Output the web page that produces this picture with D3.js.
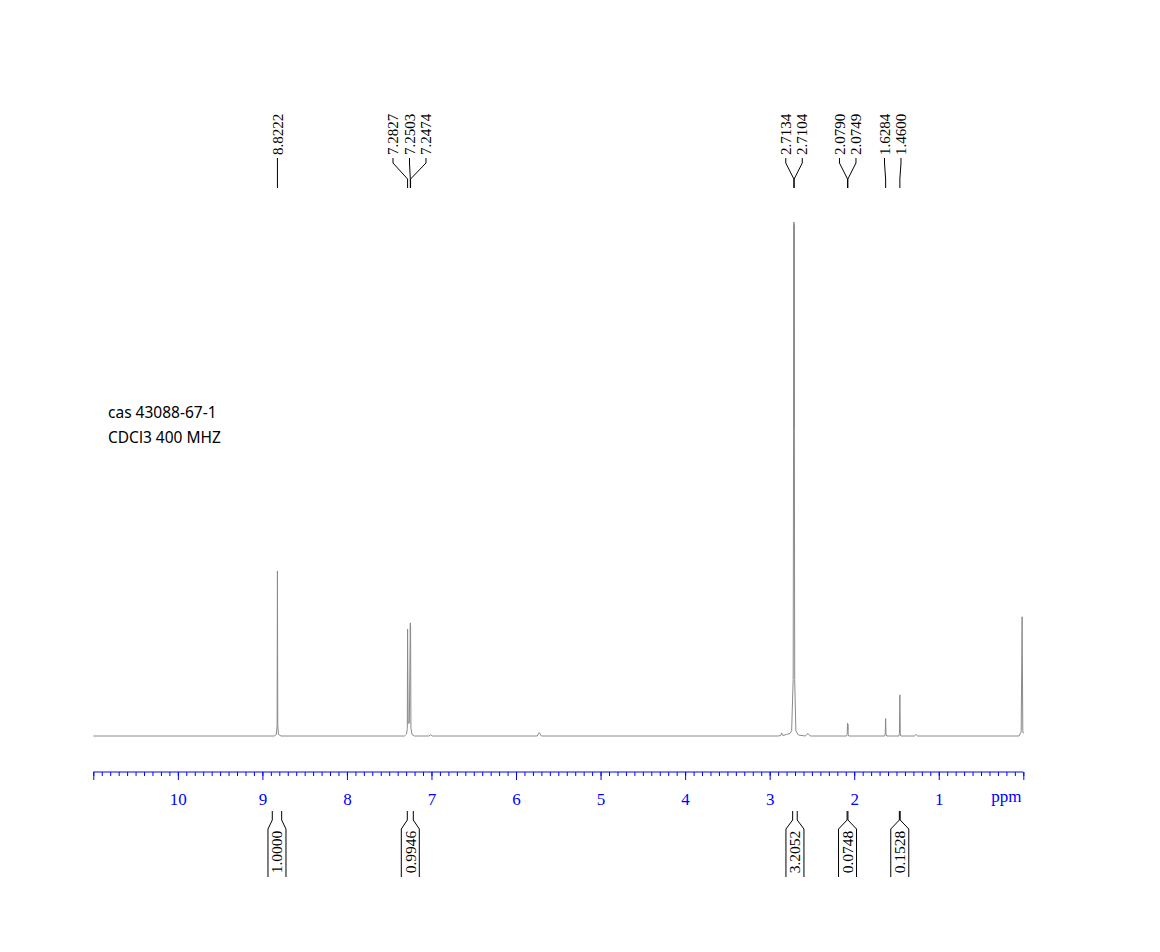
<!DOCTYPE html>
<html>
<head>
<meta charset="utf-8">
<script src="https://cdn.jsdelivr.net/npm/d3@7"></script>
<style>
  html, body { margin: 0; padding: 0; background: #ffffff; }
  svg { display: block; }
</style>
</head>
<body>
<svg id="chart" width="1160" height="952"></svg>
<script>
// ---------------- DATA ----------------
// spectrum trace: chemical shift (ppm) and relative intensity
const specPpm = [11.0, 8.86, 8.835, 8.826, 8.8222, 8.818, 8.81, 8.78,
  7.32, 7.295, 7.286, 7.2827, 7.276, 7.262, 7.2503, 7.249, 7.2474, 7.243, 7.23, 7.20,
  7.03, 7.01, 6.99,
  5.75, 5.725, 5.70,
  2.90, 2.87, 2.858, 2.845, 2.80, 2.76, 2.74, 2.722, 2.7134, 2.712, 2.7104, 2.704, 2.69, 2.66,
  2.58, 2.547, 2.52,
  2.09, 2.083, 2.0790, 2.077, 2.0749, 2.071, 2.064,
  1.64, 1.633, 1.6284, 1.624, 1.616,
  1.472, 1.465, 1.4600, 1.455, 1.448,
  1.29, 1.27, 1.25,
  0.05, 0.025, 0.014, 0.006, 0.0];
const specInt = [0, 0, 0.3, 2, 32.1, 2, 0.3, 0,
  0, 0.4, 1.5, 20.8, 2.5, 2.5, 22.0, 20, 21.4, 1.5, 0.3, 0,
  0, 0.25, 0,
  0, 0.65, 0,
  0, 0.1, 0.6, 0.1, 0.3, 0.5, 1.0, 11, 100, 60, 99.5, 11, 1, 0.2,
  0, 0.5, 0,
  0, 0.3, 2.5, 1.2, 2.3, 0.3, 0,
  0, 0.4, 3.4, 0.4, 0,
  0, 0.5, 8.0, 0.5, 0,
  0, 0.3, 0,
  0, 0.8, 23.2, 1, 0.5];

// peak labels
const peakShifts = [8.8222, 7.2827, 7.2503, 7.2474, 2.7134, 2.7104, 2.0790, 2.0749, 1.6284, 1.4600];
const peakLabels = ["8.8222", "7.2827", "7.2503", "7.2474", "2.7134", "2.7104", "2.0790", "2.0749", "1.6284", "1.4600"];

// integrals: ranges (ppm) and values
const integralFrom = [8.883, 7.286, 2.728, 2.084, 1.466];
const integralTo   = [8.772, 7.215, 2.674, 2.074, 1.456];
const integralLabels = ["1.0000", "0.9946", "3.2052", "0.0748", "0.1528"];

// axis ticks
const majorTicks = [1, 2, 3, 4, 5, 6, 7, 8, 9, 10];
const tickLabels = ["1", "2", "3", "4", "5", "6", "7", "8", "9", "10"];
const axisUnit = "ppm";

// annotation
const annotationLines = ["cas 43088-67-1", "CDCl3 400 MHZ"];

// ---------------- DRAW ----------------
const svg = d3.select("#chart");
const axisY = 772, baseY = 736;
const x = d3.scaleLinear().domain([11, 0]).range([93.3, 1023.3]);
const y = d3.scaleLinear().domain([0, 100]).range([baseY, 222]);
const blue = "#0000ff";
const serif = "'Liberation Serif', 'Times New Roman', serif";

// spectrum
const specData = specPpm.map((p, i) => [p, specInt[i]]);
svg.append("path")
  .datum(specData)
  .attr("fill", "none")
  .attr("stroke", "#8a8a8a")
  .attr("stroke-width", 1)
  .attr("d", d3.line().x(d => x(d[0])).y(d => y(d[1])));

// axis: minor ticks
const minorTicks = d3.range(0, 111).map(i => i / 10);
const gMinor = svg.append("g").attr("transform", `translate(0,${axisY})`)
  .call(d3.axisBottom(x).tickValues(minorTicks).tickSize(4).tickFormat(""));
gMinor.select(".domain").remove();
gMinor.selectAll("line").attr("stroke", blue);

// axis: major ticks + labels
const gMajor = svg.append("g").attr("transform", `translate(0,${axisY})`)
  .call(d3.axisBottom(x).tickValues([0, ...majorTicks, 11]).tickSize(8).tickPadding(13)
    .tickFormat(d => { const i = majorTicks.indexOf(d); return i >= 0 ? tickLabels[i] : ""; })
    .tickSizeOuter(0));
gMajor.select(".domain").attr("stroke", blue).attr("d", `M${x(11)},0H${x(0)}`);
gMajor.selectAll("line").attr("stroke", blue);
gMajor.selectAll("text").attr("fill", blue).attr("font-family", serif).attr("font-size", 17);
svg.append("text")
  .attr("x", x(0) - 17).attr("y", axisY + 30)
  .attr("text-anchor", "middle")
  .attr("fill", blue).attr("font-family", serif).attr("font-size", 17)
  .text(axisUnit);

// peak labels with layout spreading
const spacing = 16.5;
const peaks = peakShifts.map((s, i) => ({ s, label: peakLabels[i], px: x(s) }));
const clusters = [];
peaks.forEach(p => {
  const last = clusters[clusters.length - 1];
  if (last) {
    const n = last.length + 1;
    const mean = d3.mean([...last, p], d => d.px);
    const left = mean - (n - 1) * spacing / 2;
    if (p.px - last[last.length - 1].px < spacing || (left + (n - 1) * spacing) - p.px > -spacing / 2 && p.px - last[0].px < spacing * n) {
      last.push(p); return;
    }
  }
  clusters.push([p]);
});
clusters.forEach(c => {
  const mean = d3.mean(c, d => d.px);
  c.forEach((p, i) => { p.lx = mean + (i - (c.length - 1) / 2) * spacing; });
});
const gLab = svg.append("g");
peaks.forEach(p => {
  gLab.append("path")
    .attr("fill", "none").attr("stroke", "#000").attr("stroke-width", 1)
    .attr("d", `M${p.lx},158L${p.lx},163L${p.px},179L${p.px},188`);
  gLab.append("text")
    .attr("transform", `translate(${p.lx},155) rotate(-90)`)
    .attr("dy", "0.34em")
    .attr("font-family", serif).attr("font-size", 15)
    .attr("fill", "#000")
    .text(p.label);
});

// integrals
const gInt = svg.append("g");
integralLabels.forEach((lab, i) => {
  const x1 = x(integralFrom[i]), x2 = x(integralTo[i]);
  const cx = (x1 + x2) / 2;
  const hw = 9;
  gInt.append("path")
    .attr("fill", "none").attr("stroke", "#000").attr("stroke-width", 1)
    .attr("d", `M${x1},811L${x1},820L${cx - hw},829L${cx - hw},877`);
  gInt.append("path")
    .attr("fill", "none").attr("stroke", "#000").attr("stroke-width", 1)
    .attr("d", `M${x2},811L${x2},820L${cx + hw},829L${cx + hw},877`);
  gInt.append("text")
    .attr("transform", `translate(${cx},852) rotate(-90)`)
    .attr("dy", "0.34em")
    .attr("text-anchor", "middle")
    .attr("font-family", serif).attr("font-size", 15.5)
    .attr("fill", "#000")
    .text(lab);
});

// annotation text
svg.selectAll("text.anno").data(annotationLines).enter().append("text")
  .attr("class", "anno")
  .attr("x", 108).attr("y", (d, i) => 418 + i * 25)
  .attr("font-family", "'Noto Sans', 'Open Sans', sans-serif")
  .attr("font-size", 15.5)
  .attr("fill", "#000")
  .text(d => d);
</script>
</body>
</html>
